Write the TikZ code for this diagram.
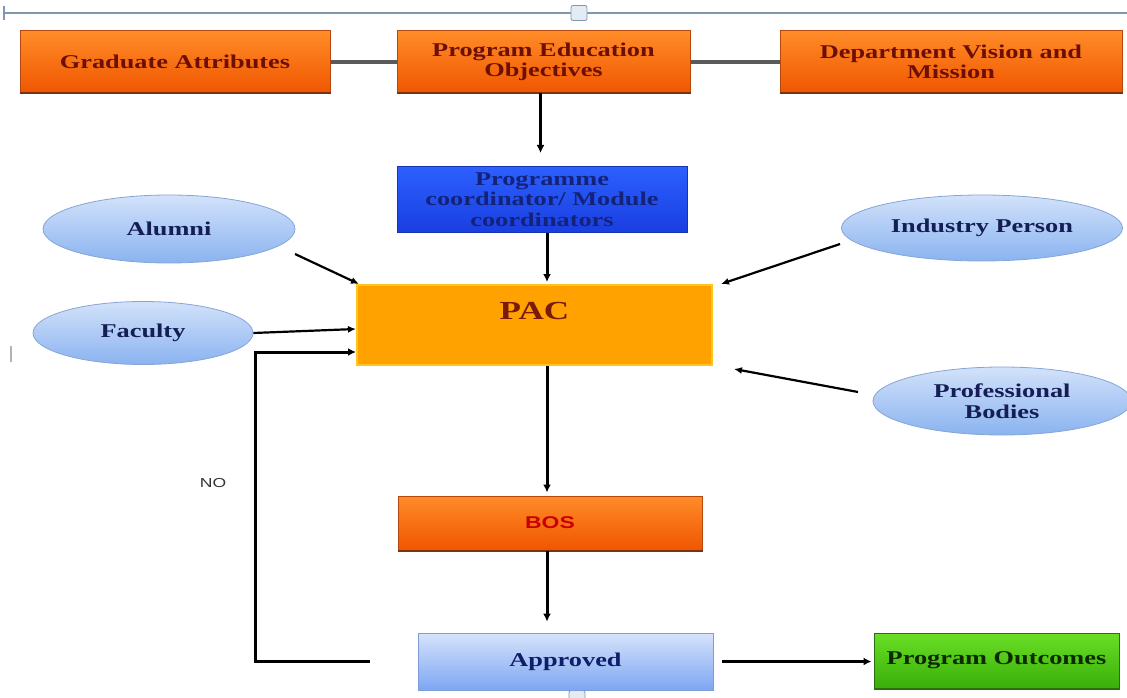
\documentclass[tikz,border=0pt]{standalone}
\usepackage{fontspec}
\setmainfont{Liberation Serif}[FakeStretch=1.35]
\newfontfamily\labsans{Liberation Sans}[FakeStretch=1.35]
\usetikzlibrary{shapes.geometric,arrows.meta,calc}

\definecolor{maroon}{HTML}{6E0F05}
\definecolor{navy}{HTML}{141E55}
\definecolor{framec}{HTML}{8197AF}
\definecolor{handlefill}{HTML}{E3EBF4}
\definecolor{orangetop}{HTML}{FF8C28}
\definecolor{orangebot}{HTML}{F05600}
\definecolor{orangeedge}{HTML}{B5480E}
\definecolor{bluetop}{HTML}{2C60FF}
\definecolor{bluebot}{HTML}{1A3EE0}
\definecolor{blueedge}{HTML}{1434B0}
\definecolor{bluetext}{HTML}{14237A}
\definecolor{pacfill}{HTML}{FFA200}
\definecolor{pacedge}{HTML}{FFC41E}
\definecolor{pactextc}{HTML}{7A1A0A}
\definecolor{elltop}{HTML}{D2E2FA}
\definecolor{ellbot}{HTML}{8AB3F0}
\definecolor{elledge}{HTML}{86A5D6}
\definecolor{aprtop}{HTML}{D6E3FB}
\definecolor{aprbot}{HTML}{7DA6F2}
\definecolor{apredge}{HTML}{7E9CD8}
\definecolor{aprtext}{HTML}{0E1F6A}
\definecolor{greentop}{HTML}{6ADF26}
\definecolor{greenbot}{HTML}{3AAE0A}
\definecolor{greenedge}{HTML}{2A6E10}
\definecolor{greentext}{HTML}{0B2A00}
\definecolor{bosred}{HTML}{C80000}
\definecolor{linkgray}{HTML}{5A5A5A}
\definecolor{notextc}{HTML}{333333}
\definecolor{boxshadow}{HTML}{7A3210}

\tikzset{
  lab/.style={font=\fontsize{19.5}{20.5}\selectfont\bfseries, align=center},
  obox/.style={lab, rectangle, inner sep=2pt, shading=axis,
    top color=orangetop, bottom color=orangebot,
    draw=orangeedge, line width=1pt, text=maroon},
  bbox/.style={lab, rectangle, inner sep=2pt, shading=axis,
    top color=bluetop, bottom color=bluebot,
    draw=blueedge, line width=1pt, text=bluetext},
  pacbox/.style={rectangle, fill=pacfill, draw=pacedge, line width=2pt},
  pactext/.style={font=\fontsize{26}{28}\selectfont\bfseries, text=pactextc},
  ell/.style={lab, ellipse, inner sep=1pt, shading=axis,
    top color=elltop, bottom color=ellbot,
    draw=elledge, line width=0.8pt, text=navy},
  abox/.style={lab, rectangle, inner sep=2pt, shading=axis,
    top color=aprtop, bottom color=aprbot,
    draw=apredge, line width=0.8pt, text=aprtext},
  gbox/.style={lab, rectangle, inner sep=2pt, shading=axis,
    top color=greentop, bottom color=greenbot,
    draw=greenedge, line width=1pt, text=greentext},
  bostext/.style={font=\labsans\fontsize{17}{18}\selectfont\bfseries, text=bosred},
  handle/.style={rectangle, rounded corners=2pt, minimum width=16pt, minimum height=15pt,
    fill=handlefill, draw=framec, line width=0.8pt},
  gline/.style={draw=linkgray, line width=4pt},
  arr/.style={draw=black, line width=3pt, -{Latex[length=8pt,width=8pt]}},
  thinarr/.style={draw=black, line width=2.2pt, -{Latex[length=8pt,width=7pt]}},
  shadowline/.style={draw=boxshadow, line width=2pt},
}

\begin{document}
\begin{tikzpicture}[x=1pt,y=-1pt]
\useasboundingbox (0,0) rectangle (1127,698);

% page frame line with its handles
\draw[framec, line width=1.6pt] (4,13) -- (1127,13);
\draw[framec, line width=1.2pt] (4,6) -- (4,20);
\node[handle] (htop) at (579,13) {};
\node[handle] (hbot) at (577,698) {};
\draw[gray!60, line width=2pt] (11,346) -- (11,362);

% top row
\node[obox, minimum width=310pt, minimum height=62pt] (ga) at (175,62) {Graduate Attributes};
\node[obox, minimum width=293pt, minimum height=62pt] (peo) at (543.5,62) {Program Education\\Objectives};
\node[obox, minimum width=342pt, minimum height=62pt] (dvm) at (951,62) {Department Vision and\\Mission};

% coordinators and PAC
\node[bbox, minimum width=290pt, minimum height=66pt] (pc) at (542,199.5) {Programme\\coordinator/ Module\\coordinators};
\node[pacbox, minimum width=355pt, minimum height=80pt,
      label={[pactext, yshift=14pt]center:PAC}] (pac) at (534.5,325) {};

% stakeholders
\node[ell, minimum width=252pt, minimum height=68pt] (alu) at (169,229) {Alumni};
\node[ell, minimum width=220pt, minimum height=63pt] (fac) at (143,333) {Faculty};
\node[ell, minimum width=281pt, minimum height=66pt] (ind) at (982,228) {Industry Person};
\node[ell, minimum width=258pt, minimum height=68pt] (pro) at (1002,401) {Professional\\Bodies};

% lower flow
\node[obox, bostext, minimum width=304pt, minimum height=54pt] (bos) at (550,523) {BOS};
\node[abox, minimum width=295pt, minimum height=57pt] (apr) at (565.5,661.5) {Approved};
\node[gbox, minimum width=245pt, minimum height=55pt] (po) at (996.5,660.5) {Program Outcomes};
\node[font=\labsans\fontsize{13}{14}\selectfont, text=notextc] (no) at (213,483) {NO};

% darker lower edges of the shaded boxes
\foreach \b in {ga,peo,dvm,bos} {\draw[shadowline] (\b.south west) -- (\b.south east);}
\draw[draw=greenedge, line width=2pt] (po.south west) -- (po.south east);

% connectors
\draw[gline] (ga) -- (peo);
\draw[gline] (peo) -- (dvm);
\draw[arr, shorten >=13pt] ([xshift=-3pt]peo.south) -- ([xshift=-3pt]peo.south |- pc.north);
\draw[arr, shorten >=2pt] ([xshift=5pt]pc.south) -- ([xshift=5pt]pc.south |- pac.north);
\draw[arr, shorten >=3pt] ([xshift=5pt]pc.south |- pac.south) -- ([xshift=5pt]pc.south |- bos.north);
\draw[arr, shorten >=11pt] ([xshift=5pt]pc.south |- bos.south) -- ([xshift=5pt]pc.south |- apr.north);
\draw[arr, line width=2.4pt, shorten <=9pt, shorten >=2pt] (apr.east) -- (apr.east -| po.west);
\draw[arr, shorten <=48pt] (apr.west) -- ++(-162,0) |- ([yshift=-27pt]pac.west);

\draw[thinarr] ($(alu.center)+(126,25)$) -- ([xshift=3pt]pac.north west);
\draw[thinarr] (fac.east) -- ([yshift=-4pt]pac.west);
\draw[thinarr] ($(ind.center)+(-142,16)$) -- ([xshift=8pt]pac.north east);
\draw[thinarr] ($(pro.center)+(-144,-9)$) -- ([xshift=21pt,yshift=-3pt]pac.south east);
\end{tikzpicture}
\end{document}
